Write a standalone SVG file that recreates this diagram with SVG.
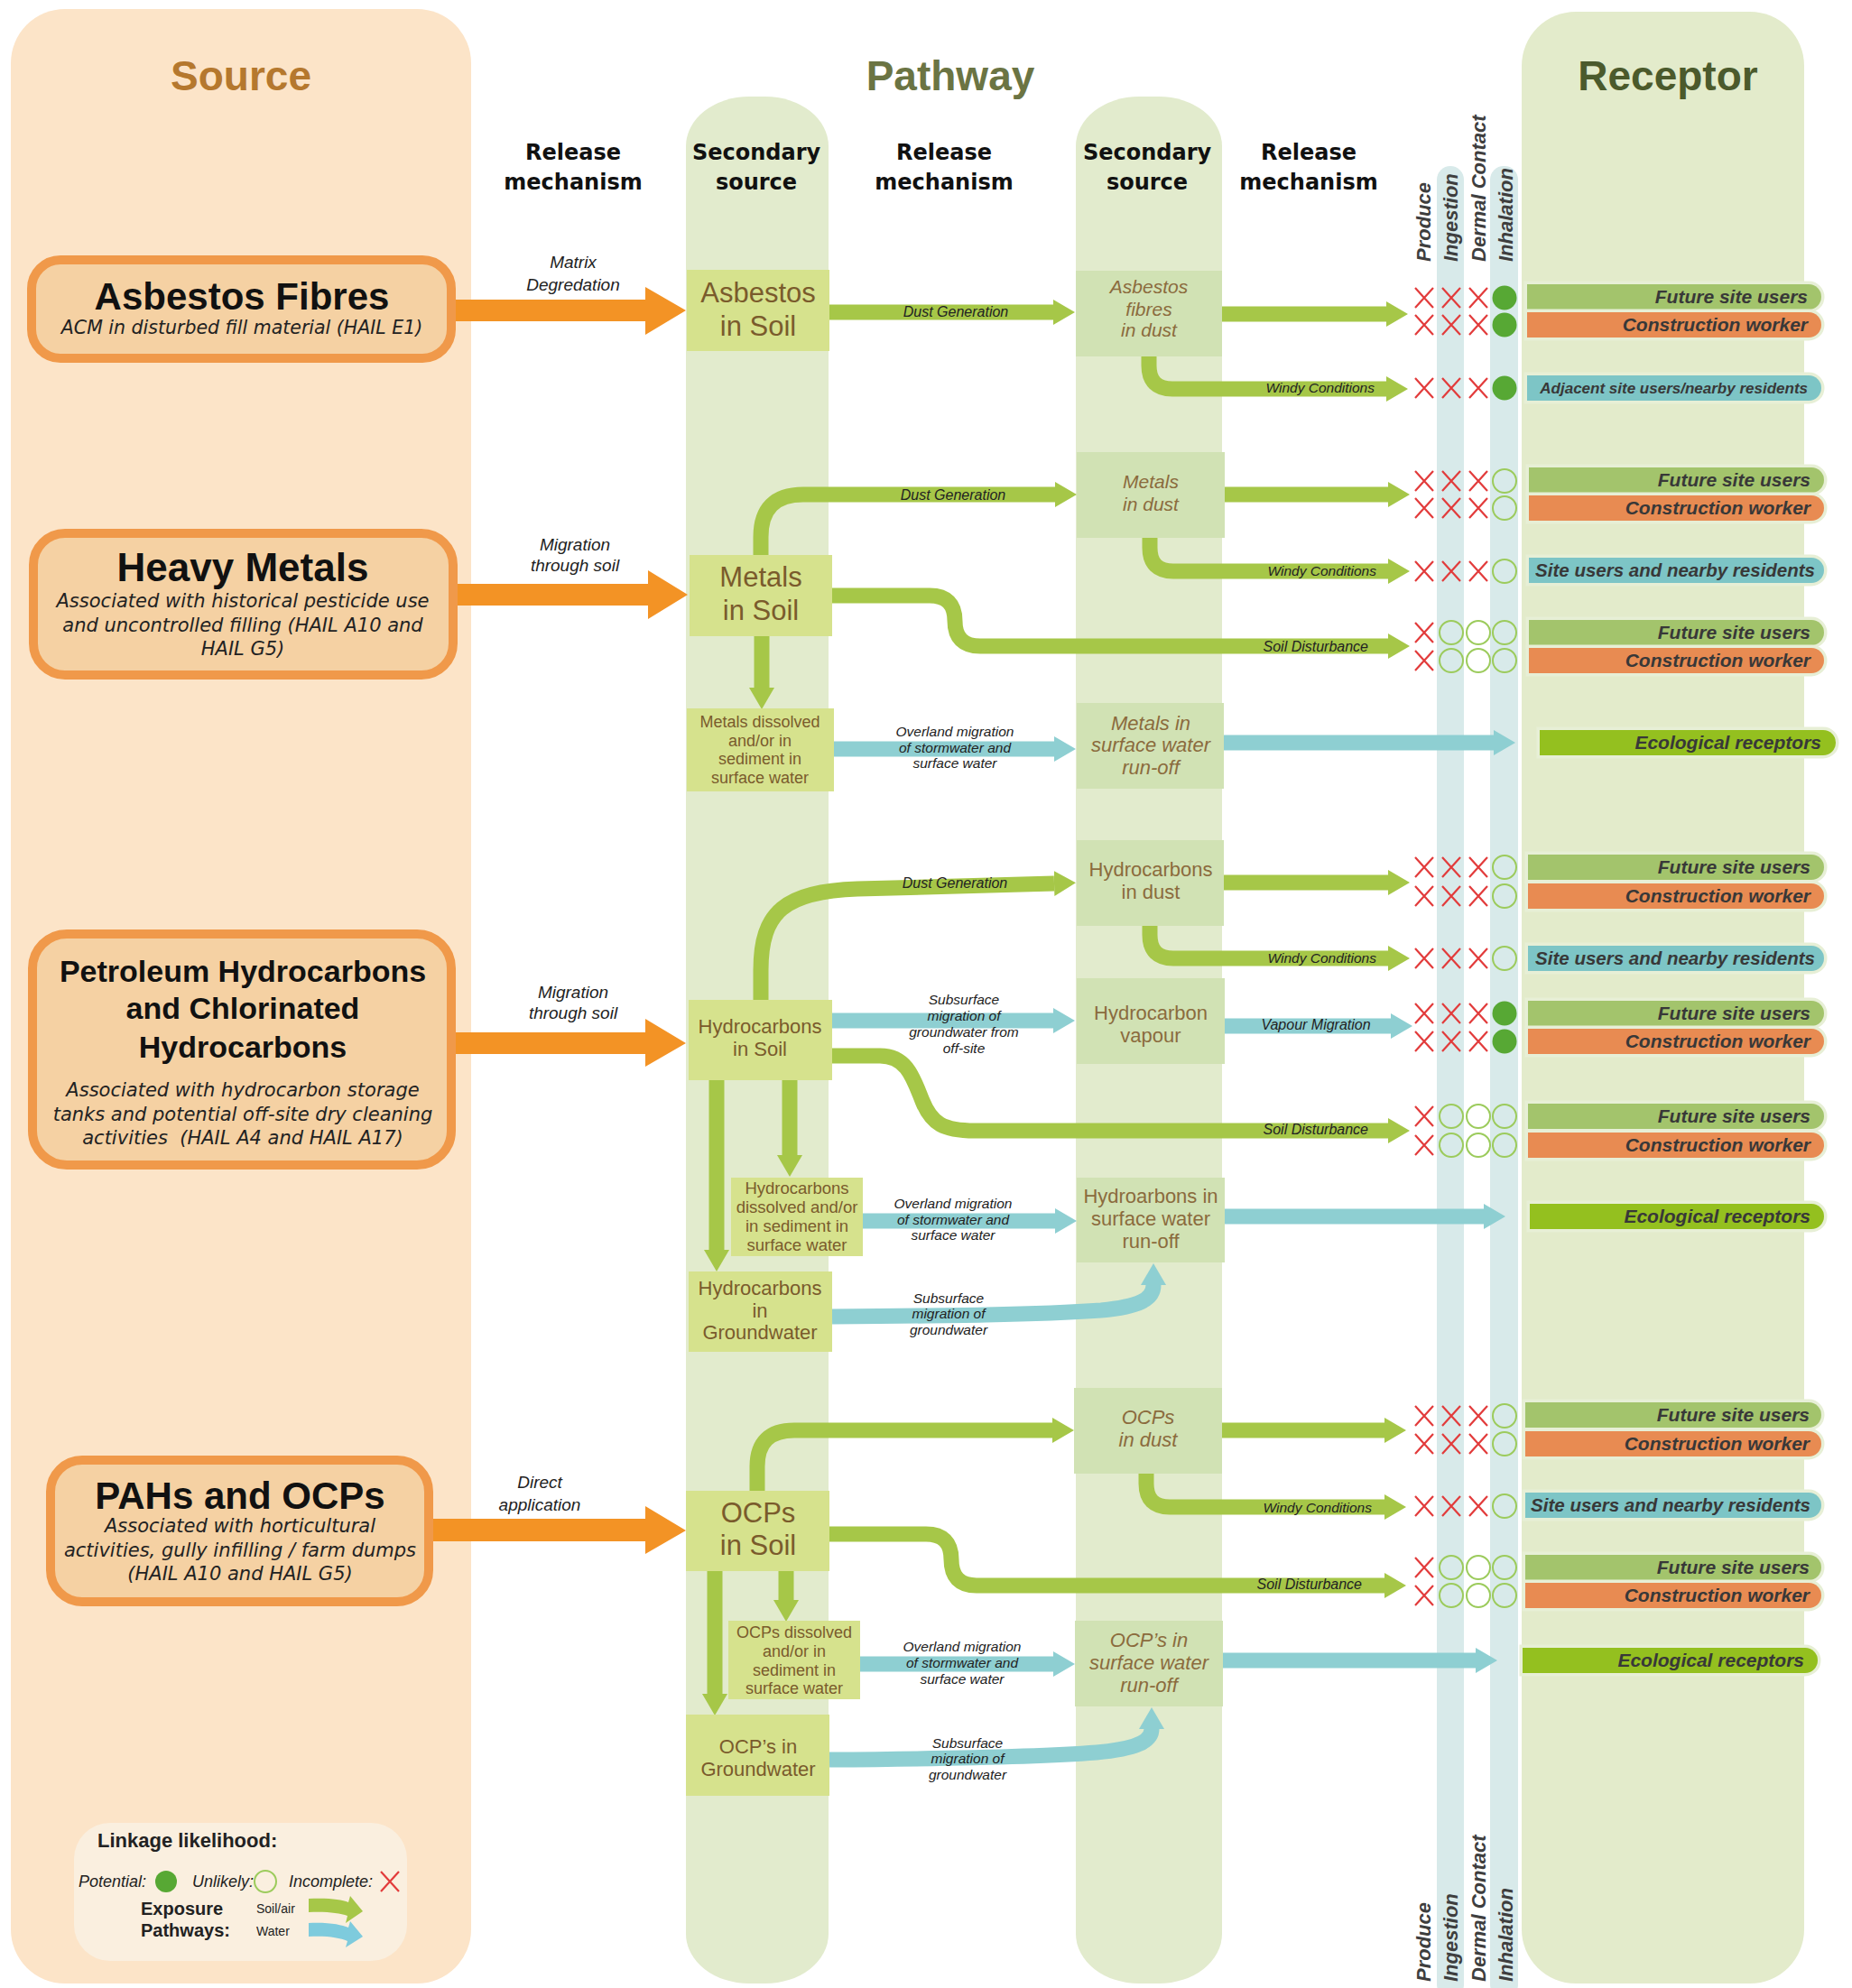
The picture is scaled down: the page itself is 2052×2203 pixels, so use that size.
<svg xmlns="http://www.w3.org/2000/svg" width="2052" height="2203" viewBox="0 0 2052 2203">
<defs>
<style>
.ttl{font-family:"Liberation Sans",Arial,sans-serif;font-weight:bold;font-size:46px;text-anchor:middle}
.hdr{font-family:"DejaVu Sans",sans-serif;font-weight:bold;font-size:24px;text-anchor:middle;fill:#111}
.st{font-family:"Liberation Sans",Arial,sans-serif;font-weight:bold;text-anchor:middle;fill:#111}
.sub{font-family:"DejaVu Sans",sans-serif;font-style:italic;text-anchor:middle;fill:#222}
.rel{font-family:"Liberation Sans",Arial,sans-serif;font-style:italic;font-size:19px;text-anchor:middle;fill:#222}
.lb{font-family:"Liberation Sans",Arial,sans-serif;font-style:italic;fill:#222}
.lw{font-family:"Liberation Sans",Arial,sans-serif;font-style:italic;font-size:15.5px;text-anchor:middle;fill:#222}
.nb{font-family:"Liberation Sans",Arial,sans-serif;fill:#7A5B2C;text-anchor:middle}
.nd{font-family:"Liberation Sans",Arial,sans-serif;fill:#8B6B3D;text-anchor:middle}
.it{font-style:italic}
.bx{fill:#D6E28D}
.dx{fill:#D1E2B4}
.src{fill:#F5D1A3;stroke:#F0994A;stroke-width:10}
.col{fill:#E2EBCD}
.strip{fill:#D8EAEA}
.g{fill:none;stroke:#A6C748;stroke-width:17}
.b{fill:none;stroke:#8ECFD2;stroke-width:17}
.oa{fill:#F39325}
.bar{stroke:#E7EFD6;stroke-width:7;paint-order:stroke}
.fsu{fill:#A3C46C}.cw{fill:#E88B52}.su{fill:#7DC5C6}.eco{fill:#94C01F}
.bt{font-family:"Liberation Sans",Arial,sans-serif;font-weight:bold;font-style:italic;text-anchor:end;fill:#383838}
.ex{font-family:"Liberation Sans",Arial,sans-serif;font-weight:bold;font-style:italic;font-size:22px;fill:#3E3E3E}
.x{fill:none;stroke:#E23B3B;stroke-width:2.2}
.o{fill:none;stroke:#9CCB5C;stroke-width:2}
.f{fill:#57A834}
.lg{font-family:"Liberation Sans",Arial,sans-serif;fill:#222}
</style>
<marker id="hg" markerUnits="userSpaceOnUse" viewBox="0 0 24 28" markerWidth="24" markerHeight="28" refX="0" refY="14" orient="auto"><path d="M0,0 L24,14 L0,28 Z" fill="#A6C748"/></marker>
<marker id="hb" markerUnits="userSpaceOnUse" viewBox="0 0 24 28" markerWidth="24" markerHeight="28" refX="0" refY="14" orient="auto"><path d="M0,0 L24,14 L0,28 Z" fill="#8ECFD2"/></marker>
<path id="xm" d="M-10,-11 L10,11 M10,-11 L-10,11"/>
</defs>

<g id="background">
<rect x="0" y="0" width="2052" height="2203" fill="#FFFFFF"/>
<rect x="12" y="10" width="510" height="2188" rx="60" fill="#FCE4C8"/>
<rect class="col" x="760" y="107" width="158" height="2091" rx="70" ry="55"/>
<rect class="col" x="1192" y="107" width="162" height="2091" rx="70" ry="55"/>
<rect x="1686" y="13" width="313" height="2185" rx="60" fill="#E3EBCB"/>
<rect class="strip" x="1592" y="184" width="30" height="2030" rx="15"/>
<rect class="strip" x="1651" y="184" width="31" height="2030" rx="15"/>
</g>

<g id="titles">
<text class="ttl" x="267" y="100" fill="#B5782E">Source</text>
<text class="ttl" x="1053" y="100" fill="#6B7443">Pathway</text>
<text class="ttl" x="1848" y="100" fill="#4B5A2C">Receptor</text>
<text class="hdr" x="635" y="177">Release</text><text class="hdr" x="635" y="210">mechanism</text>
<text class="hdr" x="838" y="177">Secondary</text><text class="hdr" x="838" y="210">source</text>
<text class="hdr" x="1046" y="177">Release</text><text class="hdr" x="1046" y="210">mechanism</text>
<text class="hdr" x="1271" y="177">Secondary</text><text class="hdr" x="1271" y="210">source</text>
<text class="hdr" x="1450" y="177">Release</text><text class="hdr" x="1450" y="210">mechanism</text>
<text class="ex" transform="translate(1585,290) rotate(-90)">Produce</text>
<text class="ex" transform="translate(1615,290) rotate(-90)">Ingestion</text>
<text class="ex" transform="translate(1646,290) rotate(-90)">Dermal Contact</text>
<text class="ex" transform="translate(1676,290) rotate(-90)">Inhalation</text>
<text class="ex" transform="translate(1585,2196) rotate(-90)">Produce</text>
<text class="ex" transform="translate(1615,2196) rotate(-90)">Ingestion</text>
<text class="ex" transform="translate(1646,2196) rotate(-90)">Dermal Contact</text>
<text class="ex" transform="translate(1676,2196) rotate(-90)">Inhalation</text>
</g>

<g id="connectors">
<polygon class="oa" points="505,332 715,332 715,318 760,344 715,371 715,356 505,356"/>
<polygon class="oa" points="507,647 718,647 718,632 762,659 718,686 718,671 507,671"/>
<polygon class="oa" points="505,1144 715,1144 715,1129 760,1156 715,1182 715,1168 505,1168"/>
<polygon class="oa" points="480,1683 715,1683 715,1669 760,1696 715,1722 715,1708 480,1708"/>
<text class="rel" x="635" y="297">Matrix</text><text class="rel" x="635" y="322">Degredation</text>
<text class="rel" x="637" y="610">Migration</text><text class="rel" x="637" y="633">through soil</text>
<text class="rel" x="635" y="1106">Migration</text><text class="rel" x="635" y="1129">through soil</text>
<text class="rel" x="598" y="1649">Direct</text><text class="rel" x="598" y="1674">application</text>

<path class="g" d="M919,346 H1167" marker-end="url(#hg)"/>
<path class="g" d="M1354,348 H1536" marker-end="url(#hg)"/>
<path class="g" d="M1273,395 V405 Q1273,431 1299,431 H1536" marker-end="url(#hg)"/>
<path class="g" d="M843,615 V595 Q843,548 890,548 H1169" marker-end="url(#hg)"/>
<path class="g" d="M1357,548 H1538" marker-end="url(#hg)"/>
<path class="g" d="M1274,596 V607 Q1274,633 1300,633 H1538" marker-end="url(#hg)"/>
<path class="g" d="M922,660 H1030 Q1058,660 1058,688 Q1058,716 1086,716 H1538" marker-end="url(#hg)"/>
<path class="g" d="M844,705 V762" marker-end="url(#hg)"/>
<path class="b" d="M924,830 H1168" marker-end="url(#hb)"/>
<path class="b" d="M1356,823 H1655" marker-end="url(#hb)"/>

<path class="g" d="M843,1108 V1075 C843,1010 870,988 950,985 L1168,979" marker-end="url(#hg)"/>
<path class="g" d="M1356,978 H1538" marker-end="url(#hg)"/>
<path class="g" d="M1274,1026 V1036 Q1274,1062 1300,1062 H1538" marker-end="url(#hg)"/>
<path class="b" d="M922,1131 H1167" marker-end="url(#hb)"/>
<path class="b" d="M1357,1137 H1541" marker-end="url(#hb)"/>
<path class="g" d="M922,1170 H975 C1005,1170 1012,1195 1022,1220 C1032,1245 1045,1253 1080,1253 H1538" marker-end="url(#hg)"/>
<path class="g" d="M875,1197 V1280" marker-end="url(#hg)"/>
<path class="g" d="M794,1197 V1385" marker-end="url(#hg)"/>
<path class="b" d="M956,1353 H1169" marker-end="url(#hb)"/>
<path class="b" d="M1357,1348 H1644" marker-end="url(#hb)"/>
<path class="b" d="M922,1459 C1050,1458 1150,1457 1220,1452 C1262,1448 1278,1440 1278,1424" marker-end="url(#hb)"/>

<path class="g" d="M839,1652 V1625 Q839,1585 880,1585 H1166" marker-end="url(#hg)"/>
<path class="g" d="M1354,1585 H1534" marker-end="url(#hg)"/>
<path class="g" d="M1270,1633 V1644 Q1270,1670 1296,1670 H1534" marker-end="url(#hg)"/>
<path class="g" d="M919,1700 H1026 Q1054,1700 1054,1728 Q1054,1757 1082,1757 H1534" marker-end="url(#hg)"/>
<path class="g" d="M871,1741 V1773" marker-end="url(#hg)"/>
<path class="g" d="M792,1741 V1877" marker-end="url(#hg)"/>
<path class="b" d="M953,1844 H1167" marker-end="url(#hb)"/>
<path class="b" d="M1355,1840 H1635" marker-end="url(#hb)"/>
<path class="b" d="M919,1950 C1050,1949 1150,1947 1215,1942 C1258,1938 1276,1930 1276,1916" marker-end="url(#hb)"/>

<text class="lb" x="1059" y="351" text-anchor="middle" style="font-size:16px">Dust Generation</text>
<text class="lb" x="1523" y="435" text-anchor="end" style="font-size:15.5px">Windy Conditions</text>
<text class="lb" x="1056" y="554" text-anchor="middle" style="font-size:16px">Dust Generation</text>
<text class="lb" x="1525" y="638" text-anchor="end" style="font-size:15.5px">Windy Conditions</text>
<text class="lb" x="1516" y="722" text-anchor="end" style="font-size:16px">Soil Disturbance</text>
<text class="lw" x="1058" y="816">Overland migration</text><text class="lw" x="1058" y="834">of stormwater and</text><text class="lw" x="1058" y="851">surface water</text>
<text class="lb" x="1058" y="984" text-anchor="middle" style="font-size:16px">Dust Generation</text>
<text class="lb" x="1525" y="1067" text-anchor="end" style="font-size:15.5px">Windy Conditions</text>
<text class="lw" x="1068" y="1113">Subsurface</text><text class="lw" x="1068" y="1131">migration of</text><text class="lw" x="1068" y="1149">groundwater from</text><text class="lw" x="1068" y="1167">off-site</text>
<text class="lb" x="1458" y="1141" text-anchor="middle" style="font-size:16px">Vapour Migration</text>
<text class="lb" x="1516" y="1257" text-anchor="end" style="font-size:16px">Soil Disturbance</text>
<text class="lw" x="1056" y="1339">Overland migration</text><text class="lw" x="1056" y="1357">of stormwater and</text><text class="lw" x="1056" y="1374">surface water</text>
<text class="lw" x="1051" y="1444">Subsurface</text><text class="lw" x="1051" y="1461">migration of</text><text class="lw" x="1051" y="1479">groundwater</text>
<text class="lb" x="1520" y="1676" text-anchor="end" style="font-size:15.5px">Windy Conditions</text>
<text class="lb" x="1509" y="1761" text-anchor="end" style="font-size:16px">Soil Disturbance</text>
<text class="lw" x="1066" y="1830">Overland migration</text><text class="lw" x="1066" y="1848">of stormwater and</text><text class="lw" x="1066" y="1866">surface water</text>
<text class="lw" x="1072" y="1937">Subsurface</text><text class="lw" x="1072" y="1954">migration of</text><text class="lw" x="1072" y="1972">groundwater</text>
</g>

<g id="source-asbestos">
<rect class="src" x="35" y="288" width="465" height="109" rx="32"/>
<text class="st" x="268" y="343" style="font-size:42px">Asbestos Fibres</text>
<text class="sub" x="268" y="370" style="font-size:20.5px">ACM in disturbed fill material (HAIL E1)</text>
</g>
<g id="source-metals">
<rect class="src" x="37" y="591" width="465" height="157" rx="35"/>
<text class="st" x="269" y="644" style="font-size:44px">Heavy Metals</text>
<text class="sub" x="269" y="673" style="font-size:21px">Associated with historical pesticide use</text>
<text class="sub" x="269" y="700" style="font-size:21px">and uncontrolled filling (HAIL A10 and</text>
<text class="sub" x="269" y="726" style="font-size:21px">HAIL G5)</text>
</g>
<g id="source-hydrocarbons">
<rect class="src" x="36" y="1035" width="464" height="256" rx="38"/>
<text class="st" x="269" y="1088" style="font-size:34px">Petroleum Hydrocarbons</text>
<text class="st" x="269" y="1129" style="font-size:34px">and Chlorinated</text>
<text class="st" x="269" y="1172" style="font-size:34px">Hydrocarbons</text>
<text class="sub" x="269" y="1215" style="font-size:21px">Associated with hydrocarbon storage</text>
<text class="sub" x="269" y="1242" style="font-size:21px">tanks and potential off-site dry cleaning</text>
<text class="sub" x="269" y="1268" style="font-size:21px" xml:space="preserve">activities  (HAIL A4 and HAIL A17)</text>
</g>
<g id="source-pahs">
<rect class="src" x="56" y="1618" width="419" height="157" rx="35"/>
<text class="st" x="266" y="1672" style="font-size:42px">PAHs and OCPs</text>
<text class="sub" x="266" y="1698" style="font-size:21px">Associated with horticultural</text>
<text class="sub" x="266" y="1725" style="font-size:21px">activities, gully infilling / farm dumps</text>
<text class="sub" x="266" y="1751" style="font-size:21px">(HAIL A10 and HAIL G5)</text>
</g>

<g id="asbestos-soil"><rect class="bx" x="761" y="299" width="158" height="90"/>
<text class="nb" x="840" y="335" style="font-size:31px">Asbestos</text><text class="nb" x="840" y="372" style="font-size:31px">in Soil</text></g>
<g id="metals-soil"><rect class="bx" x="764" y="615" width="158" height="90"/>
<text class="nb" x="843" y="650" style="font-size:31px">Metals</text><text class="nb" x="843" y="687" style="font-size:31px">in Soil</text></g>
<g id="metals-dissolved"><rect class="bx" x="761" y="785" width="163" height="92"/>
<text class="nb" x="842" y="806" style="font-size:18px">Metals dissolved</text><text class="nb" x="842" y="827" style="font-size:18px">and/or in</text><text class="nb" x="842" y="847" style="font-size:18px">sediment in</text><text class="nb" x="842" y="868" style="font-size:18px">surface water</text></g>
<g id="hc-soil"><rect class="bx" x="763" y="1108" width="159" height="89"/>
<text class="nb" x="842" y="1145" style="font-size:22px">Hydrocarbons</text><text class="nb" x="842" y="1170" style="font-size:22px">in Soil</text></g>
<g id="hc-dissolved"><rect class="bx" x="810" y="1305" width="146" height="87"/>
<text class="nb" x="883" y="1323" style="font-size:18.5px">Hydrocarbons</text><text class="nb" x="883" y="1344" style="font-size:18.5px">dissolved and/or</text><text class="nb" x="883" y="1365" style="font-size:18.5px">in sediment in</text><text class="nb" x="883" y="1386" style="font-size:18.5px">surface water</text></g>
<g id="hc-groundwater"><rect class="bx" x="763" y="1409" width="159" height="89"/>
<text class="nb" x="842" y="1435" style="font-size:22px">Hydrocarbons</text><text class="nb" x="842" y="1460" style="font-size:22px">in</text><text class="nb" x="842" y="1484" style="font-size:22px">Groundwater</text></g>
<g id="ocp-soil"><rect class="bx" x="760" y="1652" width="159" height="89"/>
<text class="nb" x="840" y="1687" style="font-size:31px">OCPs</text><text class="nb" x="840" y="1723" style="font-size:31px">in Soil</text></g>
<g id="ocp-dissolved"><rect class="bx" x="807" y="1796" width="146" height="87"/>
<text class="nb" x="880" y="1815" style="font-size:18px">OCPs dissolved</text><text class="nb" x="880" y="1836" style="font-size:18px">and/or in</text><text class="nb" x="880" y="1857" style="font-size:18px">sediment in</text><text class="nb" x="880" y="1877" style="font-size:18px">surface water</text></g>
<g id="ocp-groundwater"><rect class="bx" x="760" y="1900" width="159" height="90"/>
<text class="nb" x="840" y="1943" style="font-size:22px">OCP’s in</text><text class="nb" x="840" y="1968" style="font-size:22px">Groundwater</text></g>

<g id="asbestos-dust"><rect class="dx" x="1192" y="300" width="162" height="95"/>
<text class="nd it" x="1273" y="325" style="font-size:21px">Asbestos</text><text class="nd it" x="1273" y="350" style="font-size:21px">fibres</text><text class="nd it" x="1273" y="373" style="font-size:21px">in dust</text></g>
<g id="metals-dust"><rect class="dx" x="1193" y="501" width="164" height="95"/>
<text class="nd it" x="1275" y="541" style="font-size:21px">Metals</text><text class="nd it" x="1275" y="566" style="font-size:21px">in dust</text></g>
<g id="metals-surface"><rect class="dx" x="1193" y="779" width="163" height="95"/>
<text class="nd it" x="1275" y="809" style="font-size:22px">Metals in</text><text class="nd it" x="1275" y="833" style="font-size:22px">surface water</text><text class="nd it" x="1275" y="858" style="font-size:22px">run-off</text></g>
<g id="hc-dust"><rect class="dx" x="1193" y="931" width="163" height="95"/>
<text class="nd" x="1275" y="971" style="font-size:22px">Hydrocarbons</text><text class="nd" x="1275" y="996" style="font-size:22px">in dust</text></g>
<g id="hc-vapour"><rect class="dx" x="1193" y="1084" width="164" height="95"/>
<text class="nd" x="1275" y="1130" style="font-size:22px">Hydrocarbon</text><text class="nd" x="1275" y="1155" style="font-size:22px">vapour</text></g>
<g id="hc-surface"><rect class="dx" x="1193" y="1305" width="164" height="94"/>
<text class="nd" x="1275" y="1333" style="font-size:22px">Hydroarbons in</text><text class="nd" x="1275" y="1358" style="font-size:22px">surface water</text><text class="nd" x="1275" y="1383" style="font-size:22px">run-off</text></g>
<g id="ocp-dust"><rect class="dx" x="1190" y="1538" width="164" height="95"/>
<text class="nd it" x="1272" y="1578" style="font-size:22px">OCPs</text><text class="nd it" x="1272" y="1603" style="font-size:22px">in dust</text></g>
<g id="ocp-surface"><rect class="dx" x="1191" y="1796" width="164" height="95"/>
<text class="nd it" x="1273" y="1825" style="font-size:22px">OCP’s in</text><text class="nd it" x="1273" y="1850" style="font-size:22px">surface water</text><text class="nd it" x="1273" y="1875" style="font-size:22px">run-off</text></g>

<g id="receptors">
<path class="bar fsu" d="M1692,315 H2004 A14,14 0 0 1 2004,343 H1692 Z"/><text class="bt" x="2003" y="336" style="font-size:21px">Future site users</text>
<path class="bar cw" d="M1692,346 H2004 A14,14 0 0 1 2004,374 H1692 Z"/><text class="bt" x="2003" y="367" style="font-size:21px">Construction worker</text>
<path class="bar su" d="M1692,416 H2004 A14,14 0 0 1 2004,444 H1692 Z"/><text class="bt" x="2003" y="436" style="font-size:17px">Adjacent site users/nearby residents</text>

<path class="bar fsu" d="M1694,518 H2007 A14,14 0 0 1 2007,546 H1694 Z"/><text class="bt" x="2006" y="539" style="font-size:21px">Future site users</text>
<path class="bar cw" d="M1694,549 H2007 A14,14 0 0 1 2007,577 H1694 Z"/><text class="bt" x="2006" y="570" style="font-size:21px">Construction worker</text>
<path class="bar su" d="M1694,618 H2007 A14,14 0 0 1 2007,646 H1694 Z"/><text class="bt" x="2011" y="639" style="font-size:20.5px">Site users and nearby residents</text>
<path class="bar fsu" d="M1694,687 H2007 A14,14 0 0 1 2007,715 H1694 Z"/><text class="bt" x="2006" y="708" style="font-size:21px">Future site users</text>
<path class="bar cw" d="M1694,718 H2007 A14,14 0 0 1 2007,746 H1694 Z"/><text class="bt" x="2006" y="739" style="font-size:21px">Construction worker</text>
<path class="bar eco" d="M1706,809 H2020 A14,14 0 0 1 2020,837 H1706 Z"/><text class="bt" x="2018" y="830" style="font-size:21px">Ecological receptors</text>

<path class="bar fsu" d="M1693,947 H2007 A14,14 0 0 1 2007,975 H1693 Z"/><text class="bt" x="2006" y="968" style="font-size:21px">Future site users</text>
<path class="bar cw" d="M1693,979 H2007 A14,14 0 0 1 2007,1007 H1693 Z"/><text class="bt" x="2006" y="1000" style="font-size:21px">Construction worker</text>
<path class="bar su" d="M1693,1048 H2007 A14,14 0 0 1 2007,1076 H1693 Z"/><text class="bt" x="2011" y="1069" style="font-size:20.5px">Site users and nearby residents</text>
<path class="bar fsu" d="M1693,1109 H2007 A14,14 0 0 1 2007,1137 H1693 Z"/><text class="bt" x="2006" y="1130" style="font-size:21px">Future site users</text>
<path class="bar cw" d="M1693,1140 H2007 A14,14 0 0 1 2007,1168 H1693 Z"/><text class="bt" x="2006" y="1161" style="font-size:21px">Construction worker</text>
<path class="bar fsu" d="M1693,1223 H2007 A14,14 0 0 1 2007,1251 H1693 Z"/><text class="bt" x="2006" y="1244" style="font-size:21px">Future site users</text>
<path class="bar cw" d="M1693,1255 H2007 A14,14 0 0 1 2007,1283 H1693 Z"/><text class="bt" x="2006" y="1276" style="font-size:21px">Construction worker</text>
<path class="bar eco" d="M1695,1334 H2007 A14,14 0 0 1 2007,1362 H1695 Z"/><text class="bt" x="2006" y="1355" style="font-size:21px">Ecological receptors</text>

<path class="bar fsu" d="M1690,1554 H2004 A14,14 0 0 1 2004,1582 H1690 Z"/><text class="bt" x="2005" y="1575" style="font-size:21px">Future site users</text>
<path class="bar cw" d="M1690,1586 H2004 A14,14 0 0 1 2004,1614 H1690 Z"/><text class="bt" x="2005" y="1607" style="font-size:21px">Construction worker</text>
<path class="bar su" d="M1690,1654 H2004 A14,14 0 0 1 2004,1682 H1690 Z"/><text class="bt" x="2006" y="1675" style="font-size:20.5px">Site users and nearby residents</text>
<path class="bar fsu" d="M1690,1723 H2004 A14,14 0 0 1 2004,1751 H1690 Z"/><text class="bt" x="2005" y="1744" style="font-size:21px">Future site users</text>
<path class="bar cw" d="M1690,1754 H2004 A14,14 0 0 1 2004,1782 H1690 Z"/><text class="bt" x="2005" y="1775" style="font-size:21px">Construction worker</text>
<path class="bar eco" d="M1687,1826 H2000 A14,14 0 0 1 2000,1854 H1687 Z"/><text class="bt" x="1999" y="1847" style="font-size:21px">Ecological receptors</text>
</g>

<g id="linkage-markers">
<use href="#xm" class="x" x="1578" y="330"/><use href="#xm" class="x" x="1608" y="330"/><use href="#xm" class="x" x="1638" y="330"/><circle class="f" cx="1667" cy="330" r="13.5"/>
<use href="#xm" class="x" x="1578" y="360"/><use href="#xm" class="x" x="1608" y="360"/><use href="#xm" class="x" x="1638" y="360"/><circle class="f" cx="1667" cy="360" r="13.5"/>
<use href="#xm" class="x" x="1578" y="430"/><use href="#xm" class="x" x="1608" y="430"/><use href="#xm" class="x" x="1638" y="430"/><circle class="f" cx="1667" cy="430" r="13.5"/>

<use href="#xm" class="x" x="1578" y="533"/><use href="#xm" class="x" x="1608" y="533"/><use href="#xm" class="x" x="1638" y="533"/><circle class="o" cx="1667" cy="533" r="13"/>
<use href="#xm" class="x" x="1578" y="563"/><use href="#xm" class="x" x="1608" y="563"/><use href="#xm" class="x" x="1638" y="563"/><circle class="o" cx="1667" cy="563" r="13"/>
<use href="#xm" class="x" x="1578" y="633"/><use href="#xm" class="x" x="1608" y="633"/><use href="#xm" class="x" x="1638" y="633"/><circle class="o" cx="1667" cy="633" r="13"/>
<use href="#xm" class="x" x="1578" y="701"/><circle class="o" cx="1608" cy="701" r="13"/><circle class="o" cx="1638" cy="701" r="13"/><circle class="o" cx="1667" cy="701" r="13"/>
<use href="#xm" class="x" x="1578" y="732"/><circle class="o" cx="1608" cy="732" r="13"/><circle class="o" cx="1638" cy="732" r="13"/><circle class="o" cx="1667" cy="732" r="13"/>

<use href="#xm" class="x" x="1578" y="961"/><use href="#xm" class="x" x="1608" y="961"/><use href="#xm" class="x" x="1638" y="961"/><circle class="o" cx="1667" cy="961" r="13"/>
<use href="#xm" class="x" x="1578" y="993"/><use href="#xm" class="x" x="1608" y="993"/><use href="#xm" class="x" x="1638" y="993"/><circle class="o" cx="1667" cy="993" r="13"/>
<use href="#xm" class="x" x="1578" y="1062"/><use href="#xm" class="x" x="1608" y="1062"/><use href="#xm" class="x" x="1638" y="1062"/><circle class="o" cx="1667" cy="1062" r="13"/>
<use href="#xm" class="x" x="1578" y="1123"/><use href="#xm" class="x" x="1608" y="1123"/><use href="#xm" class="x" x="1638" y="1123"/><circle class="f" cx="1667" cy="1123" r="13.5"/>
<use href="#xm" class="x" x="1578" y="1154"/><use href="#xm" class="x" x="1608" y="1154"/><use href="#xm" class="x" x="1638" y="1154"/><circle class="f" cx="1667" cy="1154" r="13.5"/>
<use href="#xm" class="x" x="1578" y="1237"/><circle class="o" cx="1608" cy="1237" r="13"/><circle class="o" cx="1638" cy="1237" r="13"/><circle class="o" cx="1667" cy="1237" r="13"/>
<use href="#xm" class="x" x="1578" y="1269"/><circle class="o" cx="1608" cy="1269" r="13"/><circle class="o" cx="1638" cy="1269" r="13"/><circle class="o" cx="1667" cy="1269" r="13"/>

<use href="#xm" class="x" x="1578" y="1569"/><use href="#xm" class="x" x="1608" y="1569"/><use href="#xm" class="x" x="1638" y="1569"/><circle class="o" cx="1667" cy="1569" r="13"/>
<use href="#xm" class="x" x="1578" y="1600"/><use href="#xm" class="x" x="1608" y="1600"/><use href="#xm" class="x" x="1638" y="1600"/><circle class="o" cx="1667" cy="1600" r="13"/>
<use href="#xm" class="x" x="1578" y="1669"/><use href="#xm" class="x" x="1608" y="1669"/><use href="#xm" class="x" x="1638" y="1669"/><circle class="o" cx="1667" cy="1669" r="13"/>
<use href="#xm" class="x" x="1578" y="1737"/><circle class="o" cx="1608" cy="1737" r="13"/><circle class="o" cx="1638" cy="1737" r="13"/><circle class="o" cx="1667" cy="1737" r="13"/>
<use href="#xm" class="x" x="1578" y="1768"/><circle class="o" cx="1608" cy="1768" r="13"/><circle class="o" cx="1638" cy="1768" r="13"/><circle class="o" cx="1667" cy="1768" r="13"/>
</g>

<g id="legend">
<rect x="82" y="2020" width="369" height="153" rx="40" fill="#FAEFDF"/>
<text class="lg" x="108" y="2047" font-weight="bold" font-size="22" fill="#111">Linkage likelihood:</text>
<text class="lg" x="87" y="2091" font-style="italic" font-size="18">Potential:</text>
<circle class="f" cx="184" cy="2085" r="12"/>
<text class="lg" x="213" y="2091" font-style="italic" font-size="18">Unlikely:</text>
<circle class="o" cx="294" cy="2085" r="12"/>
<text class="lg" x="320" y="2091" font-style="italic" font-size="18">Incomplete:</text>
<use href="#xm" class="x" x="432" y="2085"/>
<text class="lg" x="156" y="2122" font-weight="bold" font-size="20" fill="#111">Exposure</text>
<text class="lg" x="156" y="2146" font-weight="bold" font-size="20" fill="#111">Pathways:</text>
<text class="lg" x="284" y="2120" font-size="14">Soil/air</text>
<text class="lg" x="284" y="2145" font-size="14">Water</text>
<path d="M342,2104 C365,2103 378,2105 386,2108 L388,2101 L402,2118 L383,2131 L385,2123 C376,2120 362,2118 342,2119 Z" fill="#A6C748"/>
<path d="M342,2131 C365,2130 378,2133 386,2136 L388,2129 L402,2146 L383,2158 L385,2151 C376,2147 362,2145 342,2146 Z" fill="#7ECBDD"/>
</g>
</svg>
